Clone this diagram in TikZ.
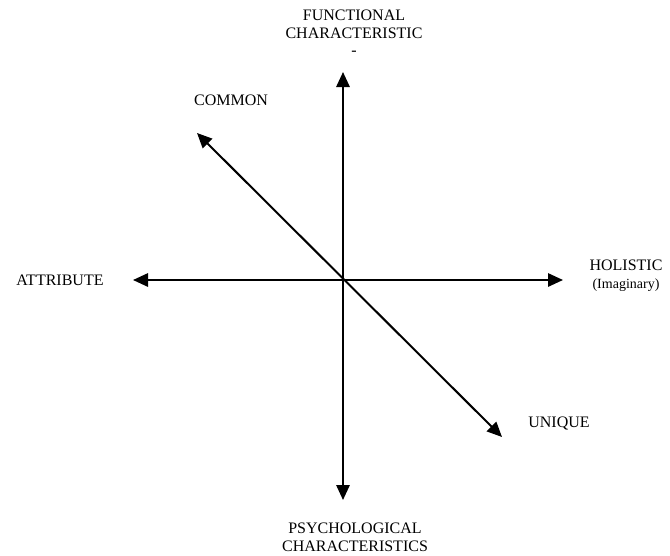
\documentclass[tikz,border=0pt]{standalone}
\usepackage{fontspec}
\setmainfont{Liberation Serif}
\usetikzlibrary{arrows.meta, positioning}

\begin{document}
\begin{tikzpicture}[
    x=0.6pt, y=-0.6pt,
    label/.style={align=center, font=\fontsize{9.6}{11}\selectfont, inner sep=0pt},
    axis/.style={{Triangle[length=9pt,width=8pt]}-{Triangle[length=9pt,width=8pt]}, line width=1.2pt}
]
    \useasboundingbox (0,0) rectangle (670,555);

    % axis ends
    \coordinate (top) at (343,72);
    \coordinate (bottom) at (343,500);
    \coordinate (left) at (133,280);
    \coordinate (right) at (563,280);
    \coordinate (common) at (197,133);
    \coordinate (unique) at (502,437);

    % labels
    \node[label] (functional) at (354,24) {FUNCTIONAL\\CHARACTERISTIC};
    \node[label] (dash) at (354,53) {-};
    \node[label] (psych) at (355,537) {PSYCHOLOGICAL\\CHARACTERISTICS};
    \node[label] (attribute) at (60,280) {ATTRIBUTE};
    \node[label] (holistic) at (626,276) {HOLISTIC\\{\fontsize{8.4}{10}\selectfont(Imaginary)}};
    \node[label] (commonlbl) at (231,100) {COMMON};
    \node[label, anchor=west] (uniquelbl) at (528,423) {UNIQUE};

    \draw[axis] (bottom) -- (top);
    \draw[axis] (left) -- (right);
    \draw[axis] (common) -- (unique);
\end{tikzpicture}
\end{document}
